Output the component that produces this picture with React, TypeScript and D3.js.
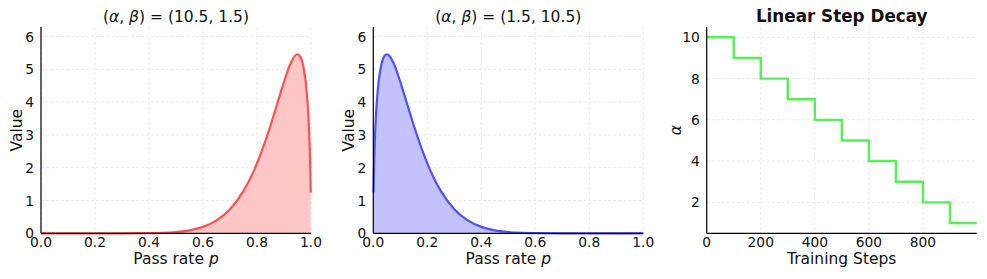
import React from "react";
import * as d3 from "d3";

// Beta(10.5, 1.5) curve
const redP = [0, 0.1, 0.2, 0.3, 0.4, 0.45, 0.5, 0.55, 0.6, 0.65, 0.7, 0.75, 0.8, 0.85, 0.875, 0.9, 0.925, 0.94, 0.95, 0.96, 0.97, 0.98, 0.985, 0.99, 0.995, 0.997, 0.999];
const redVal = [0, 0, 0.00001, 0.0004, 0.005, 0.015, 0.039, 0.091, 0.196, 0.393, 0.735, 1.292, 2.134, 3.287, 3.952, 4.619, 5.19, 5.408, 5.459, 5.394, 5.154, 4.639, 4.217, 3.613, 2.68, 2.116, 1.245];

// Beta(1.5, 10.5) curve
const blueP = [0.001, 0.003, 0.005, 0.01, 0.015, 0.02, 0.03, 0.04, 0.05, 0.06, 0.075, 0.1, 0.125, 0.15, 0.2, 0.25, 0.3, 0.35, 0.4, 0.45, 0.5, 0.55, 0.6, 0.7, 0.8, 0.9, 1.0];
const blueVal = [1.245, 2.116, 2.68, 3.613, 4.217, 4.639, 5.154, 5.394, 5.459, 5.408, 5.19, 4.619, 3.952, 3.287, 2.134, 1.292, 0.735, 0.393, 0.196, 0.091, 0.039, 0.015, 0.005, 0.0004, 0.00001, 0, 0];

// step decay schedule
const stepX = [0, 100, 200, 300, 400, 500, 600, 700, 800, 900, 999];
const stepAlpha = [10, 9, 8, 7, 6, 5, 4, 3, 2, 1, 1];

const pTicks = [0, 0.2, 0.4, 0.6, 0.8, 1.0];
const valueTicks = [0, 1, 2, 3, 4, 5, 6];
const stepTicks = [0, 200, 400, 600, 800];
const alphaTicks = [2, 4, 6, 8, 10];

const FONT = "DejaVu Sans, sans-serif";
const W = 987;
const H = 279;
const top = 27;
const bottom = 233.3;
const pw = 270;

type PanelProps = {
  left: number;
  xDomain: [number, number];
  yDomain: [number, number];
  xTicks: number[];
  yTicks: number[];
  xFmt: (v: number) => string;
  yFmt: (v: number) => string;
  title: React.ReactNode;
  titleBold?: boolean;
  xLabel: React.ReactNode;
  yLabel: React.ReactNode;
  yLabelX: number;
  children: (x: d3.ScaleLinear<number, number>, y: d3.ScaleLinear<number, number>) => React.ReactNode;
};

const Panel = ({ left, xDomain, yDomain, xTicks, yTicks, xFmt, yFmt, title, titleBold, xLabel, yLabel, yLabelX, children }: PanelProps) => {
  const x = d3.scaleLinear().domain(xDomain).range([left, left + pw]);
  const y = d3.scaleLinear().domain(yDomain).range([bottom, top]);
  const cx = left + pw / 2;
  return (
    <g fontFamily={FONT} fill="#111">
      {/* grid */}
      {xTicks.map((t) => (
        <line key={"gx" + t} x1={x(t)} x2={x(t)} y1={top} y2={bottom} stroke="#e6e6e6" strokeWidth={0.8} strokeDasharray="3,2" />
      ))}
      {yTicks.map((t) => (
        <line key={"gy" + t} x1={left} x2={left + pw} y1={y(t)} y2={y(t)} stroke="#e6e6e6" strokeWidth={0.8} strokeDasharray="3,2" />
      ))}
      {children(x, y)}
      {/* spines */}
      <line x1={left} x2={left} y1={top} y2={bottom} stroke="#000" strokeWidth={1.2} />
      <line x1={left} x2={left + pw} y1={bottom} y2={bottom} stroke="#000" strokeWidth={1.2} />
      {/* tick labels */}
      {xTicks.map((t) => (
        <text key={"tx" + t} x={x(t)} y={bottom + 13.6} fontSize={13.8} textAnchor="middle">
          {xFmt(t)}
        </text>
      ))}
      {yTicks.map((t) => (
        <text key={"ty" + t} x={left - 7} y={y(t) + 5} fontSize={13.8} textAnchor="end">
          {yFmt(t)}
        </text>
      ))}
      <text x={cx} y={264} fontSize={15.5} textAnchor="middle">
        {xLabel}
      </text>
      <text transform={`translate(${yLabelX},${(top + bottom) / 2}) rotate(-90)`} fontSize={15.5} textAnchor="middle">
        {yLabel}
      </text>
      <text x={cx} y={22} fontSize={titleBold ? 16.8 : 15.5} fontWeight={titleBold ? "bold" : "normal"} textAnchor="middle">
        {title}
      </text>
    </g>
  );
};

const densityLayers = (ps: number[], vals: number[], stroke: string, fill: string) =>
  (x: d3.ScaleLinear<number, number>, y: d3.ScaleLinear<number, number>) => {
    const pts = ps.map((p, i) => [p, vals[i]] as [number, number]);
    const area = d3
      .area<[number, number]>()
      .x((d) => x(d[0]))
      .y0(y(0))
      .y1((d) => y(d[1]))
      .curve(d3.curveMonotoneX);
    const line = d3
      .line<[number, number]>()
      .x((d) => x(d[0]))
      .y((d) => y(d[1]))
      .curve(d3.curveMonotoneX);
    return (
      <g>
        <path d={area(pts) || ""} fill={fill} />
        <path d={line(pts) || ""} fill="none" stroke={stroke} strokeWidth={2.2} />
      </g>
    );
  };

const stepLayer = (x: d3.ScaleLinear<number, number>, y: d3.ScaleLinear<number, number>) => {
  const pts = stepX.map((s, i) => [s, stepAlpha[i]] as [number, number]);
  const line = d3
    .line<[number, number]>()
    .x((d) => x(d[0]))
    .y((d) => y(d[1]))
    .curve(d3.curveStepAfter);
  return <path d={line(pts) || ""} fill="none" stroke="#55f255" strokeWidth={2.4} />;
};

const betaTitle = (a: string, b: string) => (
  <>
    <tspan>(</tspan>
    <tspan fontStyle="italic">α</tspan>
    <tspan>, </tspan>
    <tspan fontStyle="italic">β</tspan>
    <tspan>) = ({a}, {b})</tspan>
  </>
);

const passLabel = (
  <>
    <tspan>Pass rate </tspan>
    <tspan fontStyle="italic">p</tspan>
  </>
);

export default function App() {
  const f1 = d3.format(".1f");
  const f0 = d3.format("d");
  return (
    <svg width={W} height={H} style={{ position: "absolute", left: 0, top: 0, background: "#fff" }}>
      <Panel
        left={41}
        xDomain={[0, 1]}
        yDomain={[0, 6.29]}
        xTicks={pTicks}
        yTicks={valueTicks}
        xFmt={f1}
        yFmt={f0}
        title={betaTitle("10.5", "1.5")}
        xLabel={passLabel}
        yLabel="Value"
        yLabelX={22}
      >
        {densityLayers(redP, redVal, "#ff5050", "#ffc6c6")}
      </Panel>
      <Panel
        left={373.3}
        xDomain={[0, 1]}
        yDomain={[0, 6.29]}
        xTicks={pTicks}
        yTicks={valueTicks}
        xFmt={f1}
        yFmt={f0}
        title={betaTitle("1.5", "10.5")}
        xLabel={passLabel}
        yLabel="Value"
        yLabelX={354}
      >
        {densityLayers(blueP, blueVal, "#5050ff", "#c2c2ff")}
      </Panel>
      <Panel
        left={706.7}
        xDomain={[0, 999]}
        yDomain={[0.5, 10.5]}
        xTicks={stepTicks}
        yTicks={alphaTicks}
        xFmt={f0}
        yFmt={f0}
        title="Linear Step Decay"
        titleBold
        xLabel="Training Steps"
        yLabel={<tspan fontStyle="italic">α</tspan>}
        yLabelX={681}
      >
        {stepLayer}
      </Panel>
    </svg>
  );
}
